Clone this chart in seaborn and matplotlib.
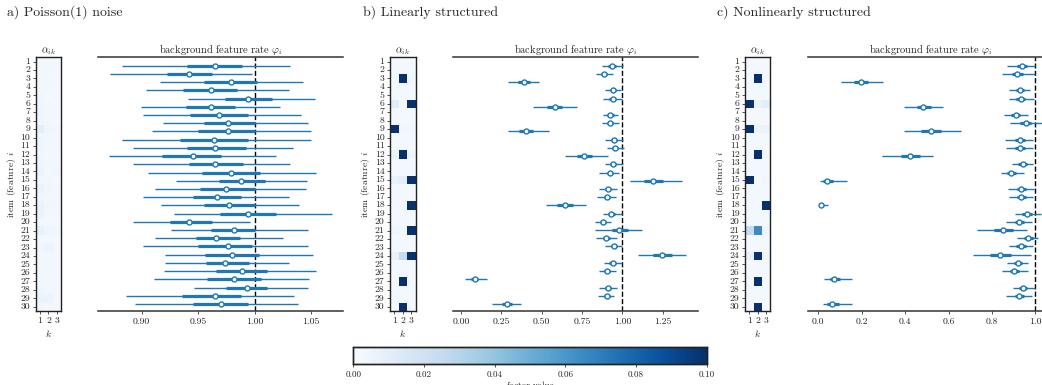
import numpy as np
import pandas as pd
import matplotlib
matplotlib.use("Agg")
import matplotlib.pyplot as plt
import seaborn as sns

sns.set_style("ticks")
plt.rcParams['font.family'] = ['cmr10', 'DejaVu Serif']
plt.rcParams['mathtext.fontset'] = 'cm'
plt.rcParams['axes.formatter.use_mathtext'] = True
plt.rcParams['axes.unicode_minus'] = False

items = list(range(1, 31))
ks = [1, 2, 3]

# ---------- panel a: Poisson(1) noise ----------
a_lo = [0.883,0.872,0.916,0.904,0.941,0.899,0.901,0.919,0.909,0.883,0.892,0.871,0.892,0.906,0.930,
        0.912,0.901,0.917,0.929,0.892,0.926,0.912,0.901,0.921,0.921,0.920,0.911,0.946,0.886,0.894]
a_q1 = [0.940,0.922,0.955,0.937,0.974,0.939,0.943,0.955,0.950,0.934,0.940,0.918,0.942,0.953,0.968,
        0.952,0.945,0.955,0.969,0.925,0.961,0.948,0.950,0.956,0.957,0.966,0.958,0.975,0.936,0.945]
a_med = [0.965,0.942,0.979,0.961,0.994,0.961,0.968,0.976,0.976,0.964,0.965,0.945,0.965,0.979,0.988,
         0.975,0.967,0.977,0.994,0.942,0.982,0.966,0.976,0.980,0.974,0.989,0.982,0.993,0.965,0.970]
a_q3 = [0.989,0.962,1.002,0.984,1.015,0.983,0.994,1.000,1.000,0.994,0.992,0.970,0.990,1.005,1.009,
        1.000,0.988,1.000,1.019,0.962,1.000,0.987,0.998,1.004,0.995,1.011,1.006,1.011,0.988,0.994]
a_hi = [1.031,0.998,1.043,1.030,1.053,1.022,1.041,1.047,1.050,1.050,1.034,1.019,1.031,1.054,1.046,
        1.045,1.030,1.039,1.068,0.996,1.047,1.025,1.047,1.052,1.030,1.054,1.048,1.047,1.035,1.038]
a_k1 = [0.004,0.003,0.003,0.003,0.004,0.004,0.005,0.004,0.010,0.005,0.005,0.004,0.004,0.007,0.003,
        0.007,0.004,0.007,0.007,0.003,0.008,0.002,0.004,0.003,0.003,0.004,0.003,0.005,0.006,0.004]
a_k2 = [0.003,0.003,0.002,0.003,0.002,0.003,0.003,0.003,0.005,0.003,0.004,0.003,0.003,0.003,0.003,
        0.004,0.003,0.004,0.003,0.002,0.005,0.002,0.006,0.003,0.003,0.003,0.003,0.003,0.006,0.003]
a_k3 = [0.003,0.002,0.003,0.002,0.003,0.002,0.003,0.002,0.004,0.003,0.003,0.003,0.002,0.004,0.002,
        0.003,0.003,0.003,0.003,0.002,0.004,0.002,0.003,0.003,0.002,0.003,0.002,0.003,0.003,0.003]

# ---------- panel b: Linearly structured ----------
b_lo = [0.872,0.837,0.291,0.895,0.878,0.448,0.878,0.872,0.291,0.895,0.905,0.645,0.895,0.858,1.048,
        0.858,0.841,0.525,0.878,0.831,0.833,0.837,0.895,1.095,0.886,0.858,0.025,0.858,0.851,0.194]
b_q1 = [0.912,0.868,0.355,0.922,0.920,0.531,0.908,0.902,0.361,0.928,0.933,0.717,0.922,0.902,1.134,
        0.890,0.884,0.597,0.910,0.862,0.934,0.878,0.928,1.192,0.920,0.884,0.060,0.890,0.885,0.252]
b_med = [0.934,0.886,0.390,0.940,0.940,0.581,0.926,0.921,0.403,0.948,0.952,0.760,0.940,0.924,1.192,
         0.909,0.903,0.647,0.930,0.880,0.981,0.899,0.946,1.244,0.940,0.903,0.085,0.909,0.903,0.283]
b_q3 = [0.958,0.906,0.428,0.960,0.960,0.624,0.946,0.941,0.448,0.968,0.973,0.810,0.960,0.945,1.254,
        0.930,0.924,0.696,0.952,0.900,1.037,0.921,0.965,1.306,0.960,0.924,0.107,0.930,0.922,0.314]
b_hi = [1.002,0.940,0.486,0.990,0.996,0.717,0.975,0.979,0.548,1.002,1.012,0.913,1.002,0.981,1.368,
        0.965,0.961,0.773,0.996,0.928,1.120,0.965,0.996,1.395,0.998,0.961,0.163,0.965,0.950,0.372]
b_k1 = [0.002,0.002,0.002,0.002,0.002,0.012,0.002,0.002,0.100,0.002,0.002,0.006,0.002,0.002,0.008,
        0.002,0.002,0.003,0.002,0.002,0.005,0.002,0.002,0.007,0.002,0.002,0.002,0.002,0.002,0.002]
b_k2 = [0.002,0.002,0.100,0.002,0.002,0.003,0.002,0.002,0.003,0.002,0.002,0.100,0.002,0.002,0.010,
        0.002,0.002,0.003,0.002,0.002,0.004,0.002,0.002,0.025,0.002,0.002,0.100,0.002,0.002,0.100]
b_k3 = [0.002,0.002,0.003,0.002,0.002,0.100,0.002,0.002,0.003,0.002,0.002,0.005,0.002,0.002,0.100,
        0.002,0.002,0.100,0.002,0.002,0.100,0.002,0.002,0.100,0.002,0.002,0.002,0.002,0.002,0.002]

# ---------- panel c: Nonlinearly structured ----------
c_lo = [0.868,0.845,0.103,0.880,0.880,0.395,0.857,0.883,0.395,0.862,0.865,0.293,0.891,0.840,0.008,
        0.876,0.877,0.008,0.906,0.865,0.730,0.917,0.880,0.711,0.868,0.845,0.026,0.896,0.865,0.020]
c_q1 = [0.916,0.893,0.164,0.912,0.912,0.453,0.890,0.930,0.473,0.908,0.908,0.381,0.922,0.868,0.023,
        0.914,0.914,0.006,0.938,0.905,0.809,0.950,0.912,0.791,0.902,0.884,0.054,0.925,0.906,0.038]
c_med = [0.937,0.916,0.197,0.929,0.932,0.484,0.909,0.955,0.518,0.929,0.929,0.422,0.942,0.888,0.038,
         0.934,0.934,0.012,0.960,0.925,0.849,0.968,0.934,0.837,0.919,0.903,0.072,0.942,0.925,0.061]
c_q3 = [0.960,0.942,0.230,0.948,0.952,0.518,0.930,0.980,0.564,0.952,0.952,0.468,0.962,0.910,0.066,
        0.956,0.955,0.022,0.985,0.946,0.896,0.988,0.955,0.886,0.938,0.925,0.100,0.962,0.946,0.097]
c_hi = [1.000,1.000,0.296,0.975,0.994,0.576,0.968,1.029,0.656,0.991,0.991,0.527,0.991,0.949,0.134,
        0.994,0.991,0.046,1.025,0.983,0.963,1.014,0.991,0.978,0.968,0.968,0.154,0.998,0.983,0.154]
c_k1 = [0.002,0.002,0.002,0.002,0.002,0.100,0.002,0.002,0.100,0.002,0.002,0.002,0.002,0.002,0.100,
        0.002,0.002,0.002,0.002,0.002,0.025,0.002,0.002,0.008,0.002,0.002,0.002,0.002,0.002,0.002]
c_k2 = [0.002,0.002,0.100,0.002,0.002,0.008,0.002,0.002,0.006,0.002,0.002,0.100,0.002,0.002,0.002,
        0.002,0.002,0.002,0.002,0.002,0.065,0.002,0.002,0.100,0.002,0.002,0.100,0.002,0.002,0.100]
c_k3 = [0.002,0.002,0.003,0.002,0.002,0.010,0.002,0.002,0.006,0.002,0.002,0.003,0.002,0.002,0.004,
        0.002,0.002,0.100,0.002,0.002,0.005,0.002,0.002,0.005,0.002,0.002,0.002,0.002,0.002,0.002]

panel_titles = ["a) Poisson(1) noise", "b) Linearly structured", "c) Nonlinearly structured"]
xticks_list = [[0.90, 0.95, 1.00, 1.05],
               [0.00, 0.25, 0.50, 0.75, 1.00, 1.25],
               [0.0, 0.2, 0.4, 0.6, 0.8, 1.0]]
xfmt = ["{:.2f}", "{:.2f}", "{:.1f}"]
xlims = [(0.8616, 1.0779), (-0.0475, 1.467), (-0.046, 1.080)]
cbar_ticks = [0.00, 0.02, 0.04, 0.06, 0.08, 0.10]

panels = [
    (a_lo, a_q1, a_med, a_q3, a_hi, a_k1, a_k2, a_k3),
    (b_lo, b_q1, b_med, b_q3, b_hi, b_k1, b_k2, b_k3),
    (c_lo, c_q1, c_med, c_q3, c_hi, c_k1, c_k2, c_k3),
]

W, H = 1042, 385
fig = plt.figure(figsize=(W / 100, H / 100), dpi=100)

def fx(px):
    return px / W

heat_left = [35.7, 390.0, 745.0]
forest_left = [98.3, 453.3, 808.3]
title_x = [7.0, 362.7, 717.3]
hm_top, hm_bot = 57.3, 311.0
fo_top, fo_bot = 56.7, 311.0
heat_w = 25.5
forest_w = 244.4

C0 = "#1f77b4"
FS = 7

cax = fig.add_axes([fx(353.3), 1 - 364.0 / H, fx(706.7 - 353.3), 17.3 / H])

for p, (lo, q1, med, q3, hi, k1, k2, k3) in enumerate(panels):
    # heatmap
    hax = fig.add_axes([fx(heat_left[p]), 1 - hm_bot / H, fx(heat_w), (hm_bot - hm_top) / H])
    df = pd.DataFrame({1: k1, 2: k2, 3: k3}, index=items)
    sns.heatmap(df, cmap="Blues", vmin=0, vmax=0.1, ax=hax,
                cbar=(p == 0), cbar_ax=cax if p == 0 else None,
                cbar_kws={"orientation": "horizontal"} if p == 0 else None,
                xticklabels=True, yticklabels=True)
    for s in hax.spines.values():
        s.set_visible(True)
        s.set_color("#222222")
        s.set_linewidth(1.0)
    hax.set_yticklabels([str(i) for i in items], rotation=0, fontsize=FS)
    hax.set_xticklabels([str(k) for k in ks], rotation=0, fontsize=FS)
    hax.tick_params(axis="both", length=2.5, width=0.6, pad=1.5, colors="#333333", labelcolor="#222222")
    hax.set_xlabel("$k$", fontsize=FS, labelpad=2)
    hax.set_ylabel("item (feature) $i$", fontsize=FS, labelpad=2)
    hax.set_title(r"$\alpha_{ik}$", fontsize=7.5, pad=2)

    # forest
    fax = fig.add_axes([fx(forest_left[p]), 1 - fo_bot / H, fx(forest_w), (fo_bot - fo_top) / H])
    rows = np.arange(len(med))
    fax.hlines(rows, lo, hi, color=C0, lw=1.0, zorder=2)
    fax.hlines(rows, q1, q3, color=C0, lw=2.3, zorder=2)
    sns.scatterplot(x=med, y=rows, ax=fax, marker="o", s=13, color="white",
                    edgecolor=C0, linewidth=1.0, zorder=3, legend=False)
    fax.axvline(1.0, color="black", ls="--", lw=1.0, zorder=1)
    fax.set_ylim(29.85, -1.095)
    fax.set_xlim(*xlims[p])
    fax.set_yticks([])
    fax.set_xticks(xticks_list[p])
    fax.set_xticklabels([xfmt[p].format(v) for v in xticks_list[p]], fontsize=FS)
    fax.tick_params(axis="x", length=2.5, width=0.6, pad=2.5, colors="#333333", labelcolor="#222222")
    for side in ["left", "right"]:
        fax.spines[side].set_visible(False)
    for side in ["top", "bottom"]:
        fax.spines[side].set_visible(True)
        fax.spines[side].set_color("#333333")
        fax.spines[side].set_linewidth(1.1)
    fax.set_xlabel("")
    fax.set_ylabel("")
    fax.set_title(r"background feature rate $\varphi_i$", fontsize=7.5, pad=2)

    fig.text(fx(title_x[p]), 1 - 12.0 / H, panel_titles[p], fontsize=10, va="center", ha="left")

# colorbar styling
cb = cax.collections[0].colorbar if cax.collections and hasattr(cax.collections[0], "colorbar") else None
cax.set_xticks(cbar_ticks)
cax.set_xticklabels(["{:.2f}".format(v) for v in cbar_ticks], fontsize=6.5)
cax.tick_params(axis="x", length=2.5, width=0.6, pad=2, colors="#333333", labelcolor="#222222")
cax.set_xlabel("factor value", fontsize=6.5, labelpad=2)
for s in cax.spines.values():
    s.set_visible(True)
    s.set_color("#222222")
    s.set_linewidth(1.0)
try:
    fig.axes[-1]
    for ax in fig.axes:
        pass
except Exception:
    pass

fig.savefig("out.png", dpi=100)
